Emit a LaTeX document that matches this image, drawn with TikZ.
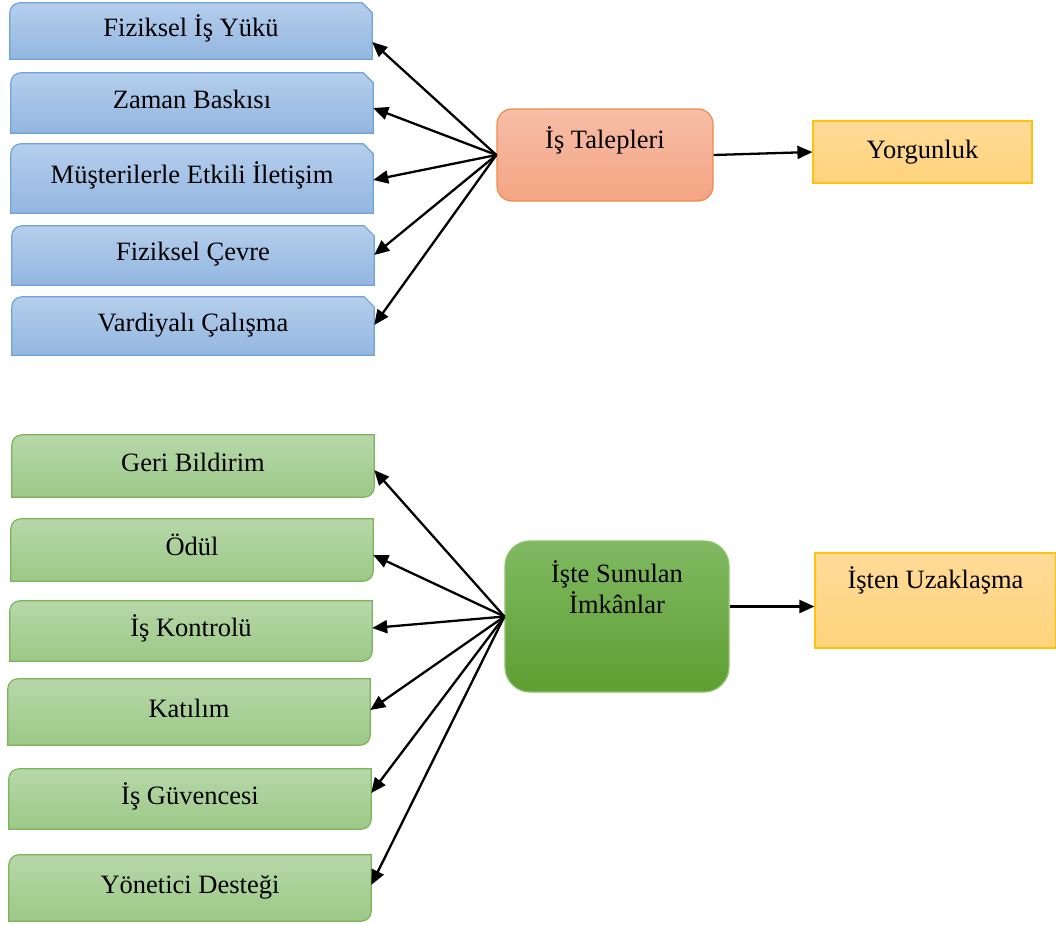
\documentclass[tikz,border=0pt]{standalone}
\usepackage{fontspec}
\setmainfont{Liberation Serif}
\usetikzlibrary{arrows.meta,positioning}
\pgfdeclarelayer{background}
\pgfsetlayers{background,main}
\definecolor{blueTop}{HTML}{B5CEEC}
\definecolor{blueBot}{HTML}{93B6E0}
\definecolor{blueLine}{HTML}{6FA3DB}
\definecolor{greenTop}{HTML}{B7D8A9}
\definecolor{greenBot}{HTML}{9CC887}
\definecolor{greenLine}{HTML}{7DB45A}
\definecolor{orangeTop}{HTML}{F7BEA8}
\definecolor{orangeBot}{HTML}{F4A482}
\definecolor{orangeLine}{HTML}{EE8A4C}
\definecolor{yellowTop}{HTML}{FFDB98}
\definecolor{yellowBot}{HTML}{FFD37C}
\definecolor{yellowLine}{HTML}{FFC20E}
\definecolor{hubTop}{HTML}{80B962}
\definecolor{hubBot}{HTML}{5F9E32}
\definecolor{hubLine}{HTML}{8CC26C}

\begin{document}
\begin{tikzpicture}[x=1pt,y=-1pt,>={Triangle[length=15pt,width=13pt]},
  every node/.style={font=\fontsize{26.5}{31}\selectfont},
  leaf/.style={minimum width=362pt,inner sep=0pt,text height=19pt,text depth=9pt},
  bluefill/.style={draw=blueLine,line width=1.2pt,top color=blueTop,bottom color=blueBot},
  greenfill/.style={draw=greenLine,line width=1.2pt,top color=greenTop,bottom color=greenBot},
  hub/.style={draw,line width=1.2pt,inner sep=0pt,text height=19pt},
  outcome/.style={draw,line width=1.2pt,inner sep=0pt,text height=19pt},
  link/.style={->,line width=2.3pt}]
\useasboundingbox (0,0) rectangle (1056,924);

% merkez kutular
\node[hub,rounded corners=15pt,draw=orangeLine,top color=orangeTop,bottom color=orangeBot,
  minimum width=216pt,minimum height=92pt,text depth=33pt] (dem) at (605,155) {İş Talepleri};
\node[outcome,draw=yellowLine,top color=yellowTop,bottom color=yellowBot,
  minimum width=219pt,minimum height=62pt,text depth=6pt] (fat) at (922.5,152) {Yorgunluk};
\node[hub,rounded corners=25pt,draw=hubLine,top color=hubTop,bottom color=hubBot,
  minimum width=224pt,minimum height=151pt,text depth=25pt,align=center] (res) at (617,616.5)
  {İşte Sunulan\\İmkânlar};
\node[outcome,draw=yellowLine,top color=yellowTop,bottom color=yellowBot,
  minimum width=241pt,minimum height=95pt,text depth=43pt] (wd) at (935.5,600.5) {İşten Uzaklaşma};

% iş talepleri (mavi)
\foreach \n/\x/\y/\h/\a/\t in {f1/191/31/56/42/{Fiziksel İş Yükü},f2/192/103/60/108/{Zaman Baskısı},
  f3/192/178.5/69/180/{Müşterilerle Etkili İletişim},f4/193/255.5/59/255/{Fiziksel Çevre},
  f5/193/326/58/325/{Vardiyalı Çalışma}}{
  \node[leaf,minimum height=\h pt] (\n) at (\x,\y) {\t};
  \draw[link] (dem.west) -- (\n.east |- 0,\a);
}
% kaynaklar (yeşil)
\foreach \n/\x/\y/\h/\a/\t in {r1/193/466/62/470/{Geri Bildirim},r2/192/550/62/555/{Ödül},
  r3/191/631/60/628/{İş Kontrolü},r4/189/712/66/710/{Katılım},r5/190/799/60/793/{İş Güvencesi},
  r6/190/888/66/885/{Yönetici Desteği}}{
  \node[leaf,minimum height=\h pt] (\n) at (\x,\y) {\t};
  \draw[link] (res.west) -- (\n.east |- 0,\a);
}

\draw[link] (dem.east) -- (fat.west);
\draw[link] ([yshift=10pt]res.east) -- ([yshift=10pt]res.east -| wd.west);

% kutu zeminleri
\begin{pgfonlayer}{background}
\foreach \n in {f1,f2,f3,f4,f5}
  \path[bluefill] ([yshift=-10pt]\n.north west)
    .. controls ([yshift=-4.5pt]\n.north west) and ([xshift=4.5pt]\n.north west) .. ([xshift=10pt]\n.north west)
    -- ([xshift=-10pt]\n.north east) -- ([yshift=-10pt]\n.north east)
    -- (\n.south east) -- (\n.south west) -- cycle;
\foreach \n in {r1,r2,r3,r4,r5,r6}
  \path[greenfill] ([yshift=-10pt]\n.north west)
    .. controls ([yshift=-4.5pt]\n.north west) and ([xshift=4.5pt]\n.north west) .. ([xshift=10pt]\n.north west)
    -- (\n.north east) -- ([yshift=10pt]\n.south east)
    .. controls ([yshift=4.5pt]\n.south east) and ([xshift=-4.5pt]\n.south east) .. ([xshift=-10pt]\n.south east)
    -- (\n.south west) -- cycle;
\end{pgfonlayer}
\end{tikzpicture}
\end{document}
